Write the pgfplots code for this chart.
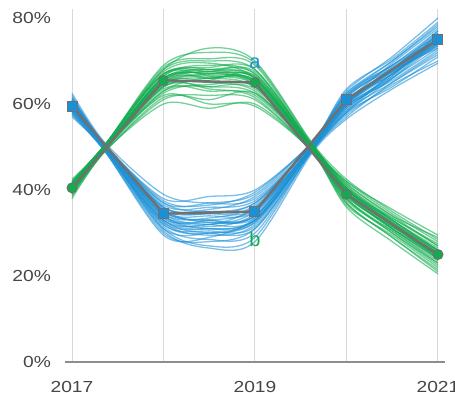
\documentclass[border=0pt]{standalone}
\usepackage{fontspec}
\setmainfont{Liberation Sans}
\usepackage{pgfplots}
\pgfplotsset{compat=1.18}
\definecolor{cblue}{RGB}{28,144,214}
\definecolor{cgreen}{RGB}{18,172,78}
\definecolor{cgray}{RGB}{112,112,112}
\definecolor{cgrid}{RGB}{217,217,217}
\definecolor{ctick}{RGB}{70,70,70}
\newcommand\bl[9]{\addplot[bline] coordinates {(2017,#1)(2017.36,#2)(2018,#3)(2018.5,#4)(2019,#5)(2019.62,#6)(2020,#7)(2020.5,#8)(2021,#9)};}
\newcommand\gr[9]{\addplot[gline] coordinates {(2017,#1)(2017.36,#2)(2018,#3)(2018.5,#4)(2019,#5)(2019.62,#6)(2020,#7)(2020.5,#8)(2021,#9)};}
\begin{document}
\begin{tikzpicture}
\begin{axis}[
  scale only axis, width=380.6pt, height=352.6pt,
  xmin=2016.92, xmax=2021.08, ymin=0, ymax=82,
  axis line style={draw=none},
  xtick={2017,2018,2019,2020,2021},
  xticklabels={2017,,2019,,2021},
  ytick={0,20,40,60,80},
  yticklabel={\pgfmathprintnumber{\tick}\%},
  /pgf/number format/assume math mode=true,
  major tick length=0pt,
  xmajorgrids, grid style={cgrid, line width=1pt},
  tick label style={font=\fontsize{16}{18}\selectfont, text=ctick, xscale=1.2},
  yticklabel style={xshift=-8pt},
  xticklabel style={yshift=-16pt},
  bline/.style={smooth, no marks, color=cblue, opacity=0.58, line width=1.3pt},
  gline/.style={smooth, no marks, color=cgreen, opacity=0.58, line width=1.3pt},
  clip=false,
]
\draw[color=cgray!80, line width=1.6pt] (axis cs:2016.92,0) -- (axis cs:2021.08,0);
% blue band (b)
\bl{60.5}{50.5}{36}{35}{37}{50.5}{61}{68}{76}
\bl{58.5}{49.5}{32}{30}{33}{49.5}{59}{66}{73}
\bl{61.5}{50.5}{37}{37}{39}{51}{62}{70}{78}
\bl{57.5}{49}{30}{28}{31}{49}{58}{64}{71}
\bl{59}{50}{35}{33}{34}{50}{60}{67}{75}
\bl{62}{50.5}{38}{38.5}{40}{51}{63}{71}{80}
\bl{58}{49.5}{31}{27}{29}{49}{57}{65}{72}
\bl{60}{50}{34}{32}{36}{50}{61.5}{68.5}{74}
\bl{59.5}{49.5}{33}{31}{33}{49.5}{59.5}{66.5}{76.5}
\bl{61}{50.5}{36.5}{36}{37.5}{50.5}{62.5}{69}{77}
\bl{57}{49.5}{32.5}{29.5}{32}{49.5}{58.5}{67}{73.5}
\bl{60}{50}{35.5}{34.5}{35.5}{50}{60}{68}{75.5}
\bl{58.5}{50}{33.5}{31.5}{34.5}{50}{61}{67.5}{74.5}
\bl{62.5}{51}{39}{37}{38}{50.5}{63.5}{70.5}{79}
\bl{59}{49.5}{31.5}{28.5}{30}{49}{57.5}{64.5}{70}
\bl{60.5}{50}{34.5}{33.5}{36.5}{50.5}{60.5}{69.5}{77.5}
\bl{58}{49}{30.5}{26.5}{28}{48.5}{56.5}{63.5}{69.5}
\bl{61}{50.5}{37.5}{36.5}{39.5}{51}{62}{68}{73}
\bl{59.5}{50}{34}{31}{32.5}{49.5}{59}{66}{74}
\bl{60}{50}{35}{34}{35}{50}{61}{67}{76}
\bl{58.5}{49.5}{33}{32}{35}{50}{60}{68.5}{75}
\bl{61.5}{50.5}{36}{35.5}{38.5}{50.5}{62.5}{70}{78.5}
\bl{57.5}{49}{29.5}{29}{33.5}{49.5}{59.5}{65.5}{72.5}
\bl{60}{50}{35.5}{32.5}{34}{50}{60.5}{67}{74.5}
\bl{59}{49.5}{32}{30.5}{31.5}{49.5}{58}{66}{75}
\bl{61}{50.5}{37}{35}{36}{50}{61.5}{69}{76}
\bl{60.5}{50}{33.5}{33}{35.5}{50}{60}{67.5}{73.5}
\bl{59}{50}{34.5}{32}{33}{49.5}{59.5}{68}{77}
\bl{58}{49.5}{31}{30}{32.5}{49.5}{58.5}{65}{71.5}
\bl{60}{50.5}{36}{34.5}{37}{50.5}{62}{69}{75}
\bl{59.5}{49.5}{33}{30}{31}{49}{58}{67}{74}
\bl{60.5}{50}{35}{33}{33.5}{49.5}{60}{68}{76.5}
\bl{59}{50}{34}{32.5}{34}{50}{59.5}{66.5}{75.5}
\bl{60}{49.5}{32.5}{31}{33}{49.5}{60.5}{67.5}{74}
% green band (a)
\gr{41}{50}{66}{67}{66}{50}{40}{32}{25}
\gr{39.5}{49.5}{63}{64}{63.5}{49.5}{38}{30}{23}
\gr{42}{50.5}{68}{70}{68}{50.5}{41.5}{34}{27}
\gr{38.5}{49}{61}{62}{61}{49}{37}{29}{21.5}
\gr{40.5}{50}{65}{66.5}{65.5}{50}{39.5}{32.5}{25.5}
\gr{42.5}{50.5}{69}{72}{69.5}{51}{42.5}{35}{28.5}
\gr{39}{49.5}{62}{60}{59.5}{49}{36}{28}{20.5}
\gr{41.5}{50.5}{67}{68}{65}{50}{40.5}{33}{26}
\gr{40}{49.5}{64}{65.5}{66.5}{50}{39}{31}{24}
\gr{41}{50}{66.5}{69}{67}{50.5}{41}{33.5}{27.5}
\gr{39.5}{49.5}{63.5}{63}{62}{49.5}{38.5}{31.5}{24.5}
\gr{40.5}{50}{65.5}{67.5}{67.5}{50.5}{40}{32}{24}
\gr{42}{50.5}{67.5}{69.5}{66}{50}{42}{34.5}{28}
\gr{38}{49}{60}{59}{60}{49}{36.5}{29.5}{22}
\gr{41}{50}{66}{66}{64}{49.5}{39}{31}{25}
\gr{40}{50}{64.5}{67}{66}{50}{40.5}{33}{26.5}
\gr{41.5}{50.5}{68}{73}{70}{51}{41}{33}{25.5}
\gr{39}{49.5}{62.5}{64.5}{64}{49.5}{37.5}{30.5}{23.5}
\gr{40.5}{50}{65}{65}{63}{49.5}{39}{32}{26}
\gr{41}{50}{66.5}{68.5}{68}{50.5}{41.5}{34}{29}
\gr{40}{49.5}{64}{64}{62.5}{49.5}{38}{30}{22.5}
\gr{41.5}{50.5}{67}{67.5}{66.5}{50}{40}{32.5}{24.5}
\gr{39.5}{49.5}{63}{66}{65}{50}{39.5}{31.5}{25}
\gr{42}{50.5}{68.5}{70.5}{69}{50.5}{42}{35.5}{29.5}
\gr{40.5}{50}{64.5}{63.5}{61.5}{49}{38}{30.5}{23}
\gr{41}{50}{65.5}{66}{65.5}{50}{40}{33}{26}
\gr{39}{49}{61.5}{61}{62.5}{49.5}{37}{29}{21}
\gr{40.5}{50}{66}{68}{67}{50.5}{40.5}{32}{24.5}
\gr{41.5}{50.5}{67}{66.5}{64.5}{50}{39.5}{31}{24}
\gr{40}{49.5}{64}{65}{64}{49.5}{38.5}{31.5}{25.5}
\gr{40.5}{50}{65.5}{68}{66}{50}{39}{31}{24.5}
\gr{41}{50}{66}{67}{65}{50}{40}{33.5}{27}
\gr{40}{50}{64.5}{66}{65.5}{50}{39.5}{32}{25}
\gr{41}{50}{65}{67.5}{64.5}{50}{40.5}{32.5}{26}
% central lines
\addplot[color=cgray, line width=2.4pt, mark=square*, mark size=5pt, mark options={fill=cblue, draw=cgray, line width=1pt}] coordinates {(2017,59.5)(2018,34.5)(2019,35)(2020,61)(2021,75)};
\addplot[color=cgray, line width=2.4pt, mark=*, mark size=5pt, mark options={fill=cgreen, draw=cgray, line width=1pt}] coordinates {(2017,40.5)(2018,65.5)(2019,65)(2020,39)(2021,25)};
\node[text=cblue, font=\fontsize{20}{22}\selectfont] at (axis cs:2019,69.5) {a};
\node[text=cgreen, font=\fontsize{20}{22}\selectfont] at (axis cs:2019,28.5) {b};
\coordinate (bbl) at (axis cs:2016.213,-6.98);
\coordinate (btr) at (axis cs:2021.186,84.19);
\end{axis}
\pgfresetboundingbox
\useasboundingbox (bbl) rectangle (btr);
\end{tikzpicture}
\end{document}
